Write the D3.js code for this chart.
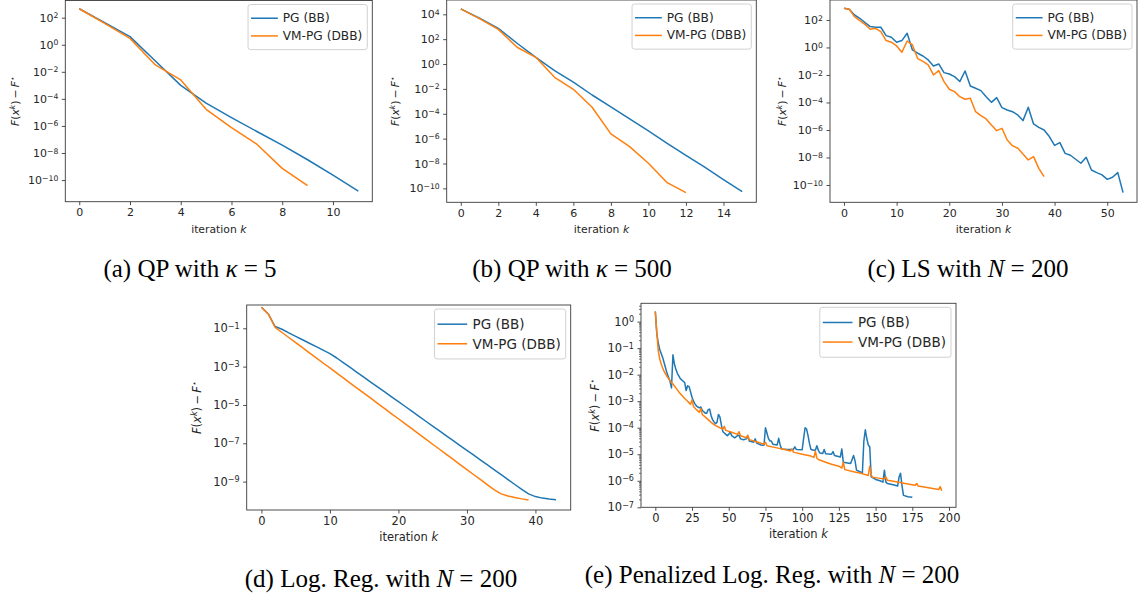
<!DOCTYPE html>
<html>
<head>
<meta charset="utf-8">
<script src="https://cdn.jsdelivr.net/npm/d3@7"></script>
<style>
  body { margin: 0; background: #fff; }
  svg { display: block; }
</style>
</head>
<body>
<svg id="fig" width="1138" height="597"></svg>
<script>
// all series are log10(F(x^k) - F*)
// (a) QP, kappa = 5   (index = iteration k)
const qp5PG = [2.66, 1.63, 0.60, -1.20, -3.00, -4.32, -5.38, -6.41, -7.42, -8.50, -9.64, -10.82];
const qp5VM = [2.66, 1.58, 0.47, -1.49, -2.60, -4.77, -6.12, -7.35, -9.14, -10.42];

// (b) QP, kappa = 500
const qp500PG = [4.43, 3.68, 2.87, 1.67, 0.54, -0.53, -1.45, -2.49, -3.45, -4.42, -5.38, -6.38, -7.34, -8.30, -9.30, -10.26];
const qp500VM = [4.43, 3.65, 2.79, 1.35, 0.54, -1.07, -2.03, -3.48, -5.62, -6.64, -7.98, -9.54, -10.34];

// (c) LS, N = 200
const lsPG = [2.85, 2.78, 2.36, 2.12, 1.81, 1.52, 1.47, 1.47, 0.86, 0.74,
  0.38, 0.50, 1.03, -0.18, -0.42, -0.62, -0.91, -1.35, -1.20, -1.83,
  -1.93, -2.12, -2.48, -1.71, -2.80, -2.97, -3.14, -3.58, -3.99, -3.65,
  -4.38, -4.55, -4.67, -4.91, -5.32, -4.35, -5.56, -5.81, -6.00, -6.48,
  -7.12, -6.92, -7.70, -7.84, -8.13, -8.42, -7.99, -8.91, -9.10, -9.27,
  -9.59, -9.44, -9.10, -10.56];
const lsVM = [2.85, 2.78, 2.24, 1.95, 1.68, 1.32, 1.39, 1.15, 0.50, 0.38,
  0.11, -0.35, 0.47, 0.18, -0.81, -1.01, -1.27, -2.00, -1.68, -2.48,
  -3.04, -3.21, -3.58, -3.77, -3.70, -4.67, -4.96, -5.20, -5.64, -6.05,
  -5.88, -6.73, -7.14, -7.33, -7.75, -8.18, -7.94, -8.79, -9.39];

// (d) logistic regression, N = 200
const logPG = [0.10, -0.25, -0.91, -1.05, -1.24, -1.42, -1.60, -1.78, -1.96, -2.14,
  -2.32, -2.55, -2.80, -3.05, -3.31, -3.56, -3.82, -4.07, -4.32, -4.58,
  -4.83, -5.08, -5.34, -5.59, -5.85, -6.10, -6.35, -6.61, -6.86, -7.12,
  -7.37, -7.62, -7.88, -8.13, -8.39, -8.64, -8.89, -9.15, -9.40, -9.64,
  -9.78, -9.86, -9.91, -9.95];
const logVM = [0.10, -0.25, -0.95, -1.22, -1.48, -1.75, -2.01, -2.28, -2.54, -2.81,
  -3.07, -3.34, -3.60, -3.87, -4.13, -4.40, -4.66, -4.93, -5.19, -5.46,
  -5.72, -5.99, -6.25, -6.52, -6.78, -7.05, -7.31, -7.58, -7.84, -8.11,
  -8.37, -8.64, -8.90, -9.17, -9.43, -9.64, -9.75, -9.83, -9.90, -9.96];

// (e) penalized logistic regression, N = 200   ([k, log10 gap])
const penPG = [[0, 0.38], [1, -0.45], [2, -0.8], [3, -1.05], [4, -1.2], [5, -1.35], [6, -1.55], [7, -1.75],
  [8, -1.95], [9, -2.1], [10, -2.25], [11, -2.5], [12, -1.25], [13, -1.6], [14, -1.8], [15, -1.95],
  [16, -2.05], [17, -2.15], [18, -2.2], [19, -2.25], [20, -2.3], [21, -2.6], [22, -2.42], [23, -2.45],
  [24, -2.65], [25, -2.85], [26, -3.0], [27, -3.1], [28, -3.18], [29, -3.22], [30, -3.25], [31, -3.22],
  [32, -3.35], [33, -3.4], [34, -3.45], [35, -3.45], [36, -3.32], [37, -3.3], [38, -3.55], [39, -3.7],
  [40, -3.78], [41, -3.85], [42, -3.8], [43, -3.5], [44, -3.6], [45, -3.9], [46, -4.15], [47, -4.2],
  [48, -4.25], [49, -4.3], [50, -4.25], [51, -4.15], [52, -4.3], [54, -4.38], [56, -4.3], [57, -4.28],
  [58, -4.42], [60, -4.45], [62, -4.42], [63, -4.33], [64, -4.5], [67, -4.55], [68, -4.42], [69, -4.58],
  [72, -4.65], [74, -4.66], [75, -4.0], [76, -4.2], [77, -4.4], [78, -4.5], [79, -4.5], [80, -4.62],
  [83, -4.65], [84, -4.4], [85, -4.65], [86, -4.8], [90, -4.82], [94, -4.82], [95, -4.72], [96, -4.82],
  [100, -4.83], [101, -4.4], [102, -4.0], [103, -4.05], [104, -4.3], [105, -4.6], [106, -4.82], [108, -4.85],
  [109, -4.85], [110, -4.68], [111, -4.85], [112, -4.95], [114, -4.97], [115, -4.82], [116, -4.98], [120, -5.0],
  [121, -4.9], [122, -5.05], [126, -5.1], [127, -4.8], [128, -5.3], [130, -5.32], [133, -5.35], [135, -5.05],
  [136, -5.25], [137, -5.6], [140, -5.68], [141, -5.7], [142, -4.5], [143, -4.08], [144, -4.4], [145, -4.65],
  [146, -4.72], [147, -5.85], [150, -5.95], [153, -6.0], [155, -6.05], [156, -5.6], [157, -6.05], [158, -6.1],
  [162, -6.15], [165, -6.2], [166, -5.85], [167, -5.72], [168, -6.2], [169, -6.55], [172, -6.6], [175, -6.62]];
const penVM = [[0, 0.38], [1, -0.4], [2, -1.1], [3, -1.4], [4, -1.6], [5, -1.75], [6, -1.88], [7, -1.98],
  [8, -2.07], [9, -2.15], [10, -2.22], [11, -2.3], [12, -2.35], [14, -2.5], [16, -2.65], [18, -2.78],
  [20, -2.9], [22, -3.0], [24, -3.12], [25, -2.95], [26, -3.2], [28, -3.32], [30, -3.42], [31, -3.28],
  [32, -3.5], [35, -3.65], [38, -3.8], [41, -3.92], [44, -4.0], [46, -4.05], [47, -3.95], [48, -4.1],
  [52, -4.17], [56, -4.25], [57, -4.15], [58, -4.3], [62, -4.38], [63, -4.28], [64, -4.45], [70, -4.55],
  [74, -4.62], [75, -4.55], [76, -4.68], [82, -4.75], [88, -4.82], [92, -4.88], [93, -4.8], [94, -4.92],
  [100, -5.0], [106, -5.07], [108, -5.12], [109, -4.88], [110, -5.15], [111, -5.2], [116, -5.3], [120, -5.38],
  [125, -5.45], [127, -5.52], [128, -5.3], [129, -5.58], [135, -5.66], [140, -5.72], [145, -5.8], [146, -5.45],
  [147, -5.78], [148, -5.87], [152, -5.9], [156, -5.93], [157, -5.85], [158, -5.98], [165, -6.05], [170, -6.1],
  [177, -6.17], [178, -6.1], [179, -6.2], [185, -6.25], [190, -6.3], [193, -6.33], [194, -6.22], [195, -6.38]];

const seriesNames = ["PG (BB)", "VM-PG (DBB)"];

// tick values (x: iteration, y: decade exponents)
const xTicksA = [0, 2, 4, 6, 8, 10];
const xTicksB = [0, 2, 4, 6, 8, 10, 12, 14];
const xTicksC = [0, 10, 20, 30, 40, 50];
const xTicksD = [0, 10, 20, 30, 40];
const xTicksE = [0, 25, 50, 75, 100, 125, 150, 175, 200];
const yExpA = [2, 0, -2, -4, -6, -8, -10];
const yExpB = [4, 2, 0, -2, -4, -6, -8, -10];
const yExpC = [2, 0, -2, -4, -6, -8, -10];
const yExpD = [-1, -3, -5, -7, -9];
const yExpE = [0, -1, -2, -3, -4, -5, -6, -7];

// captions: [before, italic symbol, after]
const captions = [
  ["(a) QP with ", "\u03BA", " = 5"],
  ["(b) QP with ", "\u03BA", " = 500"],
  ["(c) LS with ", "N", " = 200"],
  ["(d) Log. Reg. with ", "N", " = 200"],
  ["(e) Penalized Log. Reg. with ", "N", " = 200"]
];

const COLORS = ["#1f77b4", "#ff7f0e"];
const SANS = "'DejaVu Sans', sans-serif";
const SERIF = "'Liberation Serif', 'Times New Roman', serif";
const INK = "#262626";
const SPINE = "#3a3a3a";

const idx = arr => arr.map((v, k) => [k, v]);

const panels = [
  { frame: [65.3, 0.5, 372.3, 201.7], xDom: [-0.55, 11.55], yDom: [-11.6, 3.27],
    xTicks: xTicksA, yExp: yExpA, series: [idx(qp5PG), idx(qp5VM)],
    tickFs: 11, labelFs: 10.8, legFs: 12.2, yLabX: 19, cap: captions[0], capX: 190, capY: 277 },
  { frame: [446.7, 0, 756.3, 202.3], xDom: [-0.75, 15.75], yDom: [-11.12, 5.15],
    xTicks: xTicksB, yExp: yExpB, series: [idx(qp500PG), idx(qp500VM)],
    tickFs: 11, labelFs: 10.8, legFs: 12.2, yLabX: 399, cap: captions[1], capX: 572, capY: 277 },
  { frame: [830, 0, 1137, 202.3], xDom: [-2.65, 55.65], yDom: [-11.26, 3.45],
    xTicks: xTicksC, yExp: yExpC, series: [idx(lsPG), idx(lsVM)],
    tickFs: 11, labelFs: 10.8, legFs: 12.2, yLabX: 786, cap: captions[2], capX: 968, capY: 277 },
  { frame: [246.7, 305, 570.7, 510], xDom: [-2.15, 45.15], yDom: [-10.48, 0.215],
    xTicks: xTicksD, yExp: yExpD, series: [idx(logPG), idx(logVM)],
    tickFs: 11.5, labelFs: 11.5, legFs: 13.5, yLabX: 201, cap: captions[3], capX: 381, capY: 587 },
  { frame: [641, 303.3, 956, 507.3], xDom: [-9.75, 204.75], yDom: [-7, 0.69],
    xTicks: xTicksE, yExp: yExpE, series: [penPG, penVM], minor: true,
    tickFs: 11.5, labelFs: 11.5, legFs: 13.5, yLabX: 599, cap: captions[4], capX: 772, capY: 583 }
];

const svg = d3.select("#fig");

function expLabel(e) {
  return e < 0 ? "\u2212" + (-e) : String(e);
}

function drawPanel(p) {
  const [L, T, R, B] = p.frame;
  const g = svg.append("g");
  const x = d3.scaleLinear().domain(p.xDom).range([L, R]);
  const y = d3.scaleLog().domain([10 ** p.yDom[0], 10 ** p.yDom[1]]).range([B, T]);

  // curves
  const line = d3.line().x(d => x(d[0])).y(d => y(10 ** d[1]));
  p.series.forEach((s, i) => {
    g.append("path")
      .attr("d", line(s))
      .attr("fill", "none")
      .attr("stroke", COLORS[i])
      .attr("stroke-width", 1.5)
      .attr("stroke-linejoin", "round");
  });

  // x axis
  const xa = g.append("g")
    .attr("transform", `translate(0,${B})`)
    .call(d3.axisBottom(x).tickValues(p.xTicks).tickSize(3.5).tickPadding(3.5).tickSizeOuter(0));
  xa.select(".domain").remove();
  xa.attr("font-family", SANS).attr("font-size", p.tickFs);
  xa.selectAll("line").attr("stroke", SPINE).attr("stroke-width", 0.9);
  xa.selectAll("text").attr("fill", INK);

  // y axis, minor ticks first
  if (p.minor) {
    const minors = [];
    for (let e = Math.floor(p.yDom[0]); e <= Math.ceil(p.yDom[1]); e++) {
      for (let m = 2; m <= 9; m++) {
        const v = m * 10 ** e;
        if (v > 10 ** p.yDom[0] && v < 10 ** p.yDom[1]) minors.push(v);
      }
    }
    const ym = g.append("g")
      .attr("transform", `translate(${L},0)`)
      .call(d3.axisLeft(y).tickValues(minors).tickSize(2).tickFormat("").tickSizeOuter(0));
    ym.select(".domain").remove();
    ym.selectAll("line").attr("stroke", SPINE).attr("stroke-width", 0.7);
  }
  const ya = g.append("g")
    .attr("transform", `translate(${L},0)`)
    .call(d3.axisLeft(y).tickValues(p.yExp.map(e => 10 ** e)).tickSize(3.5).tickPadding(3.5).tickSizeOuter(0));
  ya.select(".domain").remove();
  ya.attr("font-family", SANS).attr("font-size", p.tickFs);
  ya.selectAll("line").attr("stroke", SPINE).attr("stroke-width", 0.9);
  ya.selectAll(".tick text").each(function(d) {
    const t = d3.select(this).attr("fill", INK).text(null);
    const e = Math.round(Math.log10(d));
    t.append("tspan").text("10");
    t.append("tspan").attr("dy", "-0.45em").attr("font-size", "0.7em").text(expLabel(e));
  });

  // frame
  g.append("rect")
    .attr("x", L).attr("y", T).attr("width", R - L).attr("height", B - T)
    .attr("fill", "none").attr("stroke", SPINE).attr("stroke-width", 0.9);

  // x label
  const xl = g.append("text")
    .attr("x", (L + R) / 2).attr("y", B + 31)
    .attr("text-anchor", "middle")
    .attr("font-family", SANS).attr("font-size", p.labelFs).attr("fill", INK);
  xl.append("tspan").text("iteration ");
  xl.append("tspan").attr("font-style", "italic").text("k");

  // y label
  const yl = g.append("text")
    .attr("transform", `translate(${p.yLabX},${(T + B) / 2}) rotate(-90)`)
    .attr("text-anchor", "middle")
    .attr("font-family", SANS).attr("font-size", p.labelFs).attr("fill", INK);
  yl.append("tspan").attr("font-style", "italic").text("F");
  yl.append("tspan").text("(");
  yl.append("tspan").attr("font-style", "italic").text("x");
  yl.append("tspan").attr("font-style", "italic").attr("font-size", "0.7em").attr("dy", "-0.5em").text("k");
  yl.append("tspan").attr("dy", "0.35em").text(")\u2009\u2212\u2009");
  yl.append("tspan").attr("font-style", "italic").text("F");
  yl.append("tspan").attr("font-size", "0.7em").attr("dy", "-0.5em").text("\u22C6");

  // legend
  const fs = p.legFs;
  const rowGap = fs * 1.45;
  const lg = g.append("g");
  const box = lg.append("rect");
  let maxW = 0;
  const texts = seriesNames.map(name => {
    const t = lg.append("text")
      .attr("font-family", SANS).attr("font-size", fs).attr("fill", INK)
      .attr("dominant-baseline", "central")
      .text(name);
    maxW = Math.max(maxW, t.node().getComputedTextLength());
    return t;
  });
  const padL = 3, padR = 5;
  const handle = fs * 2.2;
  const gap = fs * 0.4;
  const w = padL + handle + gap + maxW + padR;
  const h = rowGap * 2 + fs * 0.8;
  const bx = R - 5 - w, by = T + 4;
  box.attr("x", bx).attr("y", by).attr("width", w).attr("height", h)
    .attr("rx", 2.5).attr("fill", "#fff").attr("fill-opacity", 0.8)
    .attr("stroke", "#cccccc").attr("stroke-width", 0.9);
  seriesNames.forEach((name, i) => {
    const cy = by + h / 2 + (i - 0.5) * rowGap;
    lg.append("line")
      .attr("x1", bx + padL).attr("x2", bx + padL + handle)
      .attr("y1", cy).attr("y2", cy)
      .attr("stroke", COLORS[i]).attr("stroke-width", 1.5);
    texts[i].attr("x", bx + padL + handle + gap).attr("y", cy);
  });

  // caption
  const c = svg.append("text")
    .attr("x", p.capX).attr("y", p.capY)
    .attr("text-anchor", "middle")
    .attr("font-family", SERIF).attr("font-size", 25).attr("fill", "#000");
  c.append("tspan").text(p.cap[0]);
  c.append("tspan").attr("font-style", "italic").text(p.cap[1]);
  c.append("tspan").text(p.cap[2]);
}

panels.forEach(drawPanel);
</script>
</body>
</html>
